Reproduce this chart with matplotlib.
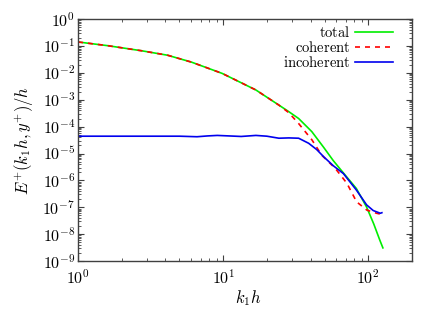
import numpy as np
import matplotlib
matplotlib.use('Agg')
import matplotlib.pyplot as plt
from matplotlib.ticker import LogLocator, NullFormatter, FuncFormatter

plt.rcParams['font.family'] = 'serif'
plt.rcParams['font.serif'] = ['DejaVu Serif']
plt.rcParams['mathtext.fontset'] = 'cm'

# total spectrum
k_tot = [1.0, 1.6, 2.74, 4.14, 6.04, 9.84, 16.8, 24.2, 28.3, 33.1, 40.8,
         49.2, 57.4, 67.3, 82.7, 97.3, 109, 120, 126]
E_tot = [1.40e-1, 1.02e-1, 6.6e-2, 4.5e-2, 2.5e-2, 9.5e-3, 2.3e-3, 6.3e-4,
         3.6e-4, 2.0e-4, 6.5e-5, 1.7e-5, 5.4e-6, 1.9e-6, 5.0e-7, 1.02e-7,
         2.4e-8, 6.0e-9, 3.1e-9]

# coherent part
k_coh = [1.0, 1.6, 2.74, 4.14, 6.04, 9.84, 16.8, 24.2, 28.3, 33.1, 40.9,
         47.7, 59.2, 71.2, 83.0, 97.6, 114, 121]
E_coh = [1.40e-1, 1.02e-1, 6.6e-2, 4.5e-2, 2.5e-2, 9.5e-3, 2.3e-3, 6.3e-4,
         3.3e-4, 1.3e-4, 3.2e-5, 8.7e-6, 2.8e-6, 7.8e-7, 1.6e-7, 7.9e-8,
         6.0e-8, 5.6e-8]

# incoherent part
k_inc = [1.0, 2.0, 3.0, 4.0, 5.0, 6.6, 7.8, 9.1, 11.0, 13.3, 16.8, 20.0,
         24.2, 28.3, 33.1, 38.8, 44.1, 49.2, 57.4, 67.3, 82.7, 97.3, 108,
         121, 124]
E_inc = [4.4e-5, 4.4e-5, 4.4e-5, 4.4e-5, 4.4e-5, 4.2e-5, 4.5e-5, 4.7e-5,
         4.5e-5, 4.3e-5, 4.7e-5, 4.4e-5, 3.7e-5, 3.8e-5, 3.7e-5, 2.4e-5,
         1.4e-5, 7.6e-6, 3.5e-6, 1.8e-6, 4.4e-7, 1.23e-7, 7.6e-8, 6.0e-8,
         6.3e-8]

fig = plt.figure(figsize=(4.36, 3.09), dpi=100)
ax = fig.add_axes([0.179, 0.155, 0.766, 0.7835])

ax.plot(k_tot, E_tot, color='#00ee00', lw=1.2, label=r'$\mathrm{total}$')
ax.plot(k_coh, E_coh, color='#ff0000', lw=1.2, dashes=(3, 3),
        label=r'$\mathrm{coherent}$')
ax.plot(k_inc, E_inc, color='#0000ee', lw=1.2, label=r'$\mathrm{incoherent}$')

ax.set_xscale('log')
ax.set_yscale('log')
ax.set_xlim(1, 200)
ax.set_ylim(1e-9, 1)

pow_fmt = FuncFormatter(lambda v, p: r'$10^{%d}$' % int(round(np.log10(v))))
ax.yaxis.set_major_locator(LogLocator(base=10, numticks=12))
ax.yaxis.set_minor_locator(LogLocator(base=10, subs=np.arange(2, 10), numticks=12))
ax.yaxis.set_major_formatter(pow_fmt)
ax.xaxis.set_major_formatter(pow_fmt)
ax.yaxis.set_minor_formatter(NullFormatter())
ax.xaxis.set_minor_formatter(NullFormatter())

ax.tick_params(which='both', direction='in', top=True, right=True,
               labelsize=11.5, color='#404040')
ax.tick_params(which='major', length=4, width=0.8)
ax.tick_params(axis='x', which='major', pad=6)
ax.tick_params(axis='y', which='major', pad=2)
ax.tick_params(which='minor', length=2, width=0.6)
for sp in ax.spines.values():
    sp.set_color('#404040')
    sp.set_linewidth(1.0)

ax.set_xlabel(r'$k_1h$', fontsize=12)
ax.set_ylabel(r'$E^{+}(k_1h, y^{+})/h$', fontsize=12)
ax.xaxis.set_label_coords(0.51, -0.11)
ax.yaxis.set_label_coords(-0.125, 0.5)

# markerfirst=False right-aligns the labels against the line samples
ax.legend(loc='upper right', frameon=False, markerfirst=False,
          fontsize=10.5, handlelength=2.6, handletextpad=0.3,
          labelspacing=0.0, borderaxespad=0.0,
          bbox_to_anchor=(0.96, 1.0))

fig.savefig('out.png', dpi=100)
